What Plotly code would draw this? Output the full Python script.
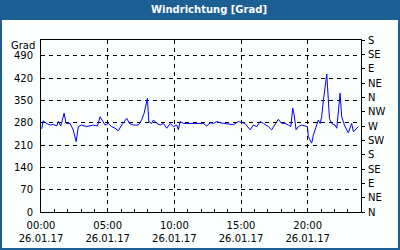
import plotly.graph_objects as go

# ---- data ----
times = ["00:03","00:10","00:26","00:41","00:55","01:11","01:18","01:29","01:44","01:53",
         "02:11","02:25","02:38","02:48","03:03","03:26","03:56","04:14","04:26","04:38",
         "04:48","05:03","05:18","05:33","05:48","06:03","06:26","06:38","06:56","07:18",
         "07:33","07:44","07:53","07:59","08:05","08:18","08:26","08:41","08:56","09:11",
         "09:26","09:41","09:56","10:11","10:18","10:26","10:41","11:11","11:41","12:11",
         "12:26","12:41","12:56","13:11","13:26","13:56","14:26","14:48","15:18","15:41",
         "15:56","16:11","16:26","16:41","17:03","17:18","17:33","17:48","18:03","18:18",
         "18:33","18:44","18:53","18:59","19:08","19:18","19:33","19:48","19:59","20:03",
         "20:11","20:18","20:26","20:33","20:41","20:48","20:56","21:03","21:11","21:18",
         "21:26","21:33","21:38","21:48","22:03","22:11","22:18","22:26","22:33","22:41",
         "22:48","23:03","23:11","23:18","23:26","23:33","23:41","23:48"]
direction = [261,286,278,273,275,270,284,270,310,278,
             278,258,221,268,273,268,273,270,299,284,
             273,278,268,263,255,273,294,278,273,273,
             289,310,341,357,284,278,289,278,273,278,
             263,278,268,273,258,284,278,278,276,278,
             270,280,278,284,280,278,274,284,278,258,
             273,268,284,278,268,258,273,291,278,278,
             273,268,326,305,258,268,273,270,268,237,
             226,216,242,258,273,289,278,299,352,393,
             433,352,294,278,273,263,310,373,299,278,
             268,249,263,278,252,258,263,268]
date = "2017-01-26"
x_vals = [f"{date} {t}" for t in times]

left_ticks = [0, 70, 140, 210, 280, 350, 420, 490]
right_tickvals = [0, 45, 90, 135, 180, 225, 270, 315, 360, 405, 450, 495, 540]
right_ticktext = ["N", "NE", "E", "SE", "S", "SW", "W", "NW", "N", "NE", "E", "SE", "S"]
title_text = "Windrichtung [Grad]"
unit_label = "Grad"

# ---- layout geometry (pixels) ----
W, H = 400, 250
L, R, T, B = 41, 39, 40, 38
pw, ph = W - L - R, H - T - B
def px_x(p): return (p - L) / pw
def px_y(p): return (H - B - p) / ph

blue = "#1c5f93"
bg = "#fbfffd"
font = "DejaVu Sans"

fig = go.Figure()
fig.add_trace(go.Scatter(x=x_vals, y=direction, mode="lines",
                         line=dict(color="#0000ff", width=1), hoverinfo="skip",
                         showlegend=False))
fig.add_trace(go.Scatter(x=[x_vals[0]], y=[None], yaxis="y2", mode="lines",
                         showlegend=False, hoverinfo="skip"))

fig.update_layout(
    width=W, height=H,
    margin=dict(l=L, r=R, t=T, b=B, pad=0, autoexpand=False),
    paper_bgcolor=bg, plot_bgcolor=bg,
    font=dict(family=font, size=10, color="black"),
    xaxis=dict(
        type="date", automargin=False,
        range=[f"{date} 00:00", "2017-01-27 00:00"],
        tick0=f"{date} 00:00", dtick=5 * 3600000,
        tickformat="%H:%M<br>%d.%m.%y",
        ticks="inside", ticklen=3, tickcolor="black",
        showline=True, linecolor="black", linewidth=1, mirror=True,
        showgrid=True, gridcolor="black", griddash="4px,4px", gridwidth=1,
        minor=dict(dtick=3600000, ticks="inside", ticklen=3, tickcolor="black",
                   showgrid=False),
        ticklabelstandoff=4,
        fixedrange=True,
    ),
    yaxis=dict(
        range=[0, 540], tickvals=left_ticks, automargin=False,
        showline=True, linecolor="black", linewidth=1,
        ticks="", showgrid=True, gridcolor="black", griddash="4px,4px", gridwidth=1,
        zeroline=False, ticklabelstandoff=5, fixedrange=True,
    ),
    yaxis2=dict(
        overlaying="y", side="right", range=[0, 540], automargin=False,
        tickvals=right_tickvals, ticktext=right_ticktext,
        ticks="outside", ticklen=3, tickcolor="black",
        showline=True, linecolor="black", linewidth=1,
        showgrid=False, zeroline=False, ticklabelstandoff=1, fixedrange=True,
    ),
    shapes=[
        dict(type="rect", xref="paper", yref="paper",
             x0=px_x(0), x1=px_x(W), y0=px_y(0), y1=px_y(20),
             fillcolor=blue, line=dict(width=0), layer="above"),
        dict(type="rect", xref="paper", yref="paper",
             x0=px_x(1), x1=px_x(W - 1), y0=px_y(1), y1=px_y(H - 1),
             fillcolor="rgba(0,0,0,0)", line=dict(color=blue, width=2), layer="above"),
    ],
    annotations=[
        dict(text=f"<b>{title_text}</b>", xref="paper", yref="paper",
             x=px_x(209), y=px_y(10), xanchor="center", yanchor="middle",
             showarrow=False, font=dict(family=font, size=10, color="white")),
        dict(text=unit_label, xref="paper", yref="paper",
             x=px_x(37), y=px_y(46), xanchor="right", yanchor="middle",
             showarrow=False, font=dict(family=font, size=10, color="black")),
    ],
)

fig.write_html("out.html", config={"displayModeBar": False})
